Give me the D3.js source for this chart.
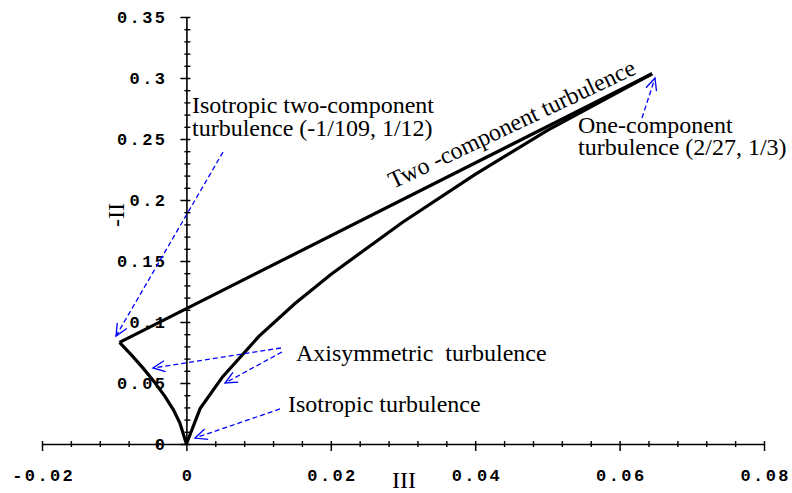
<!DOCTYPE html>
<html>
<head>
<meta charset="utf-8">
<script src="https://cdn.jsdelivr.net/npm/d3@7"></script>
<style>
  body { margin: 0; background: #fff; }
  .tickText { font-family: "Liberation Mono", "Courier New", monospace; font-weight: bold; font-size: 17px; letter-spacing: 2.4px; fill: #000; }
  .note { font-family: "Liberation Serif", "Times New Roman", serif; font-size: 24px; fill: #000; }
</style>
</head>
<body>
<div id="chart"></div>
<script>
// Lumley triangle values (III, -II)
var twoCompIII = [-0.00926, 0.0645];
var twoCompII = [0.0833, 0.3035];

var axiLeftIII = [-0.00926, -0.0075, -0.006, -0.0045, -0.003, -0.0018, -0.0009, 0];
var axiLeftII = [0.0833, 0.0722, 0.0622, 0.0513, 0.0392, 0.0280, 0.0172, 0];

var axiRightIII = [0, 0.0019, 0.005, 0.01, 0.015, 0.02, 0.03, 0.04, 0.05, 0.0645];
var axiRightII = [0, 0.029, 0.055, 0.088, 0.115, 0.139, 0.182, 0.221, 0.257, 0.3035];

// tick labels
var xTicks = [-0.02, 0, 0.02, 0.04, 0.06, 0.08];
var xTickLabels = ["-0.02", "0", "0.02", "0.04", "0.06", "0.08"];
var yTicks = [0, 0.05, 0.1, 0.15, 0.2, 0.25, 0.3, 0.35];
var yTickLabels = ["0", "0.05", "0.1", "0.15", "0.2", "0.25", "0.3", "0.35"];

// annotation arrows: [III, -II] start and end
var arrowFrom = [[0.00507, 0.2393], [0.0131, 0.0787], [0.01324, 0.0754], [0.01296, 0.0287], [0.0631, 0.2672]];
var arrowTo = [[-0.00975, 0.0885], [-0.00463, 0.0623], [0.00535, 0.05], [0.00119, 0.0049], [0.0649, 0.3]];

var svgWidth = 792;
var svgHeight = 493;

// Set Chart Margins
var margin = { top: 17, right: 28, bottom: 49, left: 42 };
var width = svgWidth - margin.left - margin.right;
var height = svgHeight - margin.top - margin.bottom;

var svg = d3.select("#chart")
  .append("svg")
  .attr("width", svgWidth)
  .attr("height", svgHeight);

var defs = svg.append("defs");
defs.append("marker")
  .attr("id", "head")
  .attr("markerUnits", "userSpaceOnUse")
  .attr("markerWidth", 30)
  .attr("markerHeight", 30)
  .attr("viewBox", "-15 -15 30 30")
  .attr("refX", 0)
  .attr("refY", 0)
  .attr("orient", "auto")
  .append("path")
  .attr("d", "M-12,-5.5 L0,0 L-12,5.5")
  .attr("fill", "none")
  .attr("stroke", "#0000ff")
  .attr("stroke-width", 1.3);

var chartGroup = svg.append("g")
  .attr("transform", `translate(${margin.left}, ${margin.top})`);

var xScale = d3.scaleLinear().domain([-0.02, 0.08]).range([0, width]);
var yScale = d3.scaleLinear().domain([0, 0.35]).range([height, 0]);

// minor ticks
var xMinor = d3.range(-0.02, 0.0801, 0.004).filter(v => xTicks.every(t => Math.abs(t - v) > 1e-6));
var yMinor = d3.range(0, 0.3501, 0.01).filter(v => yTicks.every(t => Math.abs(t - v) > 1e-6));

// x axis
var xAxisG = chartGroup.append("g")
  .attr("transform", `translate(0, ${height})`);

xAxisG.append("g")
  .call(d3.axisBottom(xScale).tickValues(xMinor).tickSize(3).tickFormat(""))
  .call(g => g.select(".domain").remove())
  .selectAll("line").attr("y1", -3).attr("stroke", "#000").attr("stroke-width", 1.4);

xAxisG.append("g")
  .call(d3.axisBottom(xScale).tickValues(xTicks).tickSizeInner(7).tickSizeOuter(0)
    .tickFormat((d, i) => xTickLabels[i]))
  .call(g => g.select(".domain").attr("stroke-width", 1.6))
  .call(g => g.selectAll("line").attr("y1", -3).attr("stroke-width", 1.5))
  .selectAll("text")
  .attr("class", "tickText")
  .attr("y", 37)
  .attr("dy", 0)
  .attr("dx", 1.2);

// y axis, sits at III = 0
var yAxisG = chartGroup.append("g")
  .attr("transform", `translate(${xScale(0)}, 0)`);

yAxisG.append("g")
  .call(d3.axisRight(yScale).tickValues(yMinor).tickSize(4).tickFormat(""))
  .call(g => g.select(".domain").remove())
  .selectAll("line").attr("x1", -2).attr("stroke", "#000").attr("stroke-width", 1.4);

yAxisG.append("g")
  .call(d3.axisLeft(yScale).tickValues(yTicks).tickSizeInner(6).tickSizeOuter(0)
    .tickFormat((d, i) => yTickLabels[i]))
  .call(g => g.select(".domain").attr("stroke-width", 1.6))
  .call(g => g.selectAll("line").attr("x1", 4).attr("stroke-width", 1.5))
  .selectAll("text")
  .attr("class", "tickText")
  .attr("x", -19)
  .attr("dy", 5);

// curves
var line = d3.line()
  .x(d => xScale(d[0]))
  .y(d => yScale(d[1]));

var curves = [
  d3.zip(twoCompIII, twoCompII),
  d3.zip(axiLeftIII, axiLeftII),
  d3.zip(axiRightIII, axiRightII)
];

chartGroup.selectAll(".curve")
  .data(curves)
  .enter()
  .append("path")
  .attr("class", "curve")
  .attr("d", line)
  .attr("fill", "none")
  .attr("stroke", "#000")
  .attr("stroke-width", 3.2)
  .attr("stroke-linejoin", "miter");

// dashed blue arrows
chartGroup.selectAll(".arrow")
  .data(d3.zip(arrowFrom, arrowTo))
  .enter()
  .append("line")
  .attr("class", "arrow")
  .attr("x1", d => xScale(d[0][0]))
  .attr("y1", d => yScale(d[0][1]))
  .attr("x2", d => xScale(d[1][0]))
  .attr("y2", d => yScale(d[1][1]))
  .attr("stroke", "#0000ff")
  .attr("stroke-width", 1.3)
  .attr("stroke-dasharray", "5,3")
  .attr("marker-end", "url(#head)");

// labels
svg.append("text").attr("class", "note").attr("x", 192).attr("y", 113).text("Isotropic two-component");
svg.append("text").attr("class", "note").attr("x", 192).attr("y", 136).text("turbulence (-1/109, 1/12)");
svg.append("text").attr("class", "note").attr("x", 578).attr("y", 133).text("One-component");
svg.append("text").attr("class", "note").attr("x", 578).attr("y", 155).text("turbulence (2/27, 1/3)");
svg.append("text").attr("class", "note").attr("x", 296).attr("y", 361).attr("xml:space", "preserve").text("Axisymmetric  turbulence");
svg.append("text").attr("class", "note").attr("x", 288).attr("y", 412).text("Isotropic turbulence");
svg.append("text").attr("class", "note")
  .attr("transform", "translate(393, 189) rotate(-25.3)")
  .text("Two -component turbulence");

// axis titles
svg.append("text").attr("class", "note")
  .attr("x", 404).attr("y", 488)
  .attr("text-anchor", "middle")
  .text("III");
svg.append("text").attr("class", "note")
  .attr("transform", "translate(124, 215) rotate(-90)")
  .attr("text-anchor", "middle")
  .text("-II");
</script>
</body>
</html>
